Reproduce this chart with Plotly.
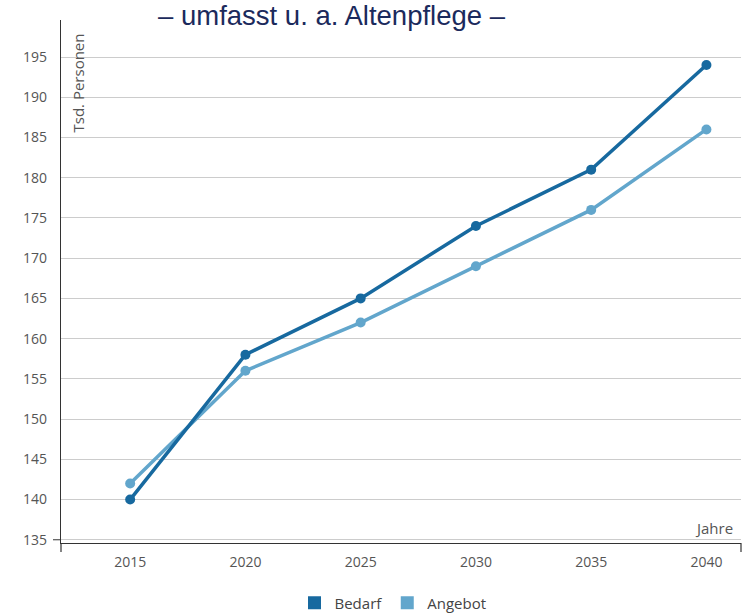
import plotly.graph_objects as go

years = [2015, 2020, 2025, 2030, 2035, 2040]
bedarf = [140, 158, 165, 174, 181, 194]
angebot = [142, 156, 162, 169, 176, 186]
y_ticks = [135, 140, 145, 150, 155, 160, 165, 170, 175, 180, 185, 190, 195]

c_bedarf = "#17699f"
c_angebot = "#62a6cc"
font_fam = "Open Sans, Noto Sans, sans-serif"

fig = go.Figure()
fig.add_trace(go.Scatter(x=years, y=angebot, mode="lines+markers", name="Angebot",
                         line=dict(color=c_angebot, width=3.5),
                         marker=dict(size=10, color=c_angebot), showlegend=False))
fig.add_trace(go.Scatter(x=years, y=bedarf, mode="lines+markers", name="Bedarf",
                         line=dict(color=c_bedarf, width=3.5),
                         marker=dict(size=10, color=c_bedarf), showlegend=False))
# legend entries
fig.add_trace(go.Scatter(x=[None], y=[None], mode="markers", name="Bedarf",
                         marker=dict(symbol="square", size=13, color=c_bedarf)))
fig.add_trace(go.Scatter(x=[None], y=[None], mode="markers", name="Angebot",
                         marker=dict(symbol="square", size=13, color=c_angebot)))

PW = 680.0
fig.update_layout(
    width=748, height=613,
    margin=dict(l=61, r=7, t=20, b=70, autoexpand=False),
    paper_bgcolor="white", plot_bgcolor="white",
    font=dict(family=font_fam, size=14, color="#555555"),
    showlegend=True,
    legend=dict(orientation="h", x=(393 - 61) / PW, xanchor="center", y=-0.083, yanchor="top",
                font=dict(size=15, color="#444444"), itemwidth=30, tracegroupgap=0),
    xaxis=dict(range=[2012, 2041.5], tickvals=years, ticktext=[str(y) for y in years],
               showgrid=False, zeroline=False, showline=True, linecolor="#333333",
               linewidth=1.2, ticks="", automargin=False, ticklabelstandoff=6,
               tickfont=dict(size=14, color="#555555")),
    yaxis=dict(range=[134.6, 199.6], tickvals=y_ticks, showgrid=True, gridcolor="#cccccc",
               gridwidth=1, zeroline=False, showline=True, linecolor="#333333",
               linewidth=1.2, ticks="", automargin=False, ticklabelstandoff=10,
               tickfont=dict(size=14, color="#555555")),
    annotations=[
        dict(text="– umfasst u. a. Altenpflege –", xref="paper", yref="paper",
             x=(332 - 61) / PW, y=1.0, xanchor="center", yanchor="middle",
             showarrow=False, yshift=5,
             font=dict(family="Liberation Sans, Arial, sans-serif", size=27.5, color="#1b2a5c")),
        dict(text="Tsd. Personen", xref="paper", yref="paper", x=0, y=1, xanchor="left",
             yanchor="top", textangle=-90, showarrow=False, xshift=4, yshift=-12,
             font=dict(size=15, color="#555555")),
        dict(text="Jahre", xref="paper", yref="paper", x=1, y=0, xanchor="right",
             yanchor="bottom", showarrow=False, xshift=-6, yshift=3,
             font=dict(size=15, color="#555555")),
    ],
    shapes=[
        dict(type="line", xref="paper", yref="paper", x0=0, x1=0, y0=0, y1=-9,
             ysizemode="pixel", yanchor=0, line=dict(color="#333333", width=1.2)),
        dict(type="line", xref="paper", yref="paper", x0=1, x1=1, y0=0, y1=-9,
             ysizemode="pixel", yanchor=0, line=dict(color="#333333", width=1.2)),
        dict(type="line", xref="paper", yref="y", x0=-8, x1=0, y0=135, y1=135,
             xsizemode="pixel", xanchor=0, line=dict(color="#333333", width=1)),
    ],
)
fig.write_html("out.html", config={"displayModeBar": False},
               post_script="document.body.style.margin='0';document.body.style.overflow='hidden';")
